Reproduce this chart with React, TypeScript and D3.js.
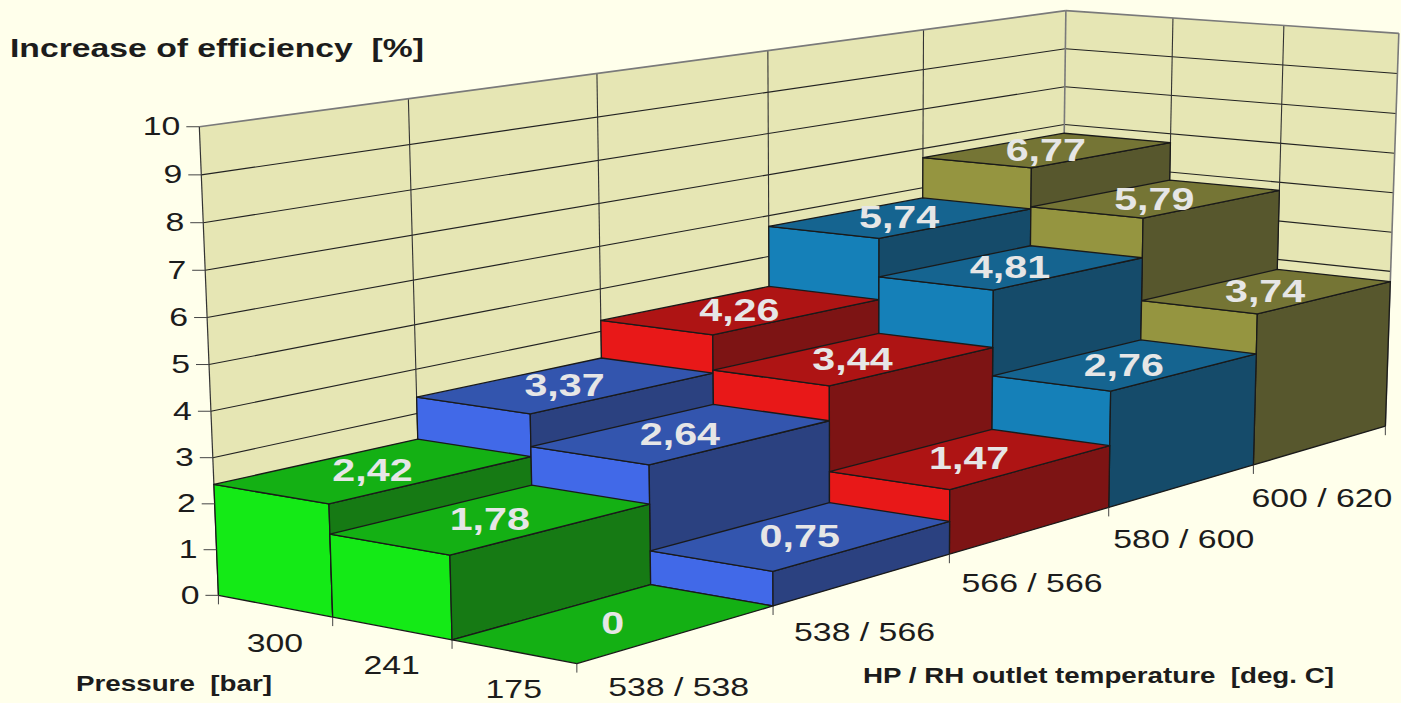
import React from "react";
import * as d3 from "d3";

// Efficiency gain [%] per pressure row, one entry per temperature step
const pressures = ["300", "241", "175"];
const temperatures = ["538 / 538", "538 / 566", "566 / 566", "580 / 600", "600 / 620"];
const gain300 = [2.42, 3.37, 4.26, 5.74, 6.77];
const gain241 = [1.78, 2.64, 3.44, 4.81, 5.79];
const gain175 = [0, 0.75, 1.47, 2.76, 3.74];
const gainRows = [gain300, gain241, gain175];
const valueTicks = d3.range(0, 11);

// Shades per temperature step: lit side, top, shaded side
const sideColors = ["#14EA16", "#4169E8", "#E81818", "#1580B8", "#959540"];
const topColors = ["#14B014", "#3355AE", "#AE1414", "#156490", "#757535"];
const shadeColors = ["#167A14", "#2B4180", "#7D1414", "#154B6A", "#57572D"];

const W = 1401;
const H = 703;

// Room coordinates: depth along the pressure axis, width along the temperature axis, height in %
const depth = d3.scaleLinear().domain([0, pressures.length]).range([pressures.length, 0]);
const width = d3.scaleLinear().domain([0, temperatures.length]).range([0, temperatures.length]);
const height = d3.scaleLinear().domain([0, 10]).range([0, 10]);

// Camera reference points as [depth, width, height, screenX, screenY]
const cameraPoints: number[][] = [
  [3, 0, 0, 219, 596],
  [3, 0, 10, 200, 127],
  [0, 0, 0, 576, 663],
  [1, 0, 0, 452, 640],
  [2, 0, 0, 333, 617],
  [0, 1, 0, 773, 606],
  [0, 2, 0, 950, 555.6],
  [0, 3, 0, 1110, 507],
  [0, 4, 0, 1253, 464],
  [0, 5, 0, 1385, 427],
  [1, 1, 0, 650, 585],
  [3, 5, 10, 1065.7, 10],
  [0, 5, 10, 1399, 34],
  [1, 5, 10, 1285, 26],
  [2, 5, 10, 1172, 18],
  [3, 5, 9, 1065, 49],
  [3, 5, 8, 1065, 87],
  [0, 5, 3.74, 1390, 282],
  [1, 5, 5.79, 1279, 190],
  [2, 5, 6.77, 1171, 142],
  [2, 4, 6.77, 1032, 168],
  [1, 4, 5.79, 1143, 218],
  [0, 4, 3.74, 1257, 313],
  [3, 1, 10, 408, 99],
  [3, 1, 9, 409, 144],
  [3, 0, 2.42, 214, 484],
  [2, 0, 2.42, 329, 504],
  [2, 0, 1.78, 329.5, 535],
  [1, 0, 1.78, 450, 554],
  [1, 1, 0.75, 650, 551],
  [0, 1, 0.75, 773, 571],
];

function solveLinear(A: number[][], b: number[]): number[] {
  const n = b.length;
  const M = A.map((row, i) => [...row, b[i]]);
  for (let c = 0; c < n; c++) {
    let p = c;
    for (let r = c + 1; r < n; r++) if (Math.abs(M[r][c]) > Math.abs(M[p][c])) p = r;
    [M[c], M[p]] = [M[p], M[c]];
    for (let r = 0; r < n; r++) {
      if (r === c) continue;
      const f = M[r][c] / M[c][c];
      for (let k = c; k <= n; k++) M[r][k] -= f * M[c][k];
    }
  }
  return M.map((row, i) => row[n] / row[i]);
}

// Least-squares projective camera through the reference points
function fitCamera(points: number[][]): number[] {
  const rows: number[][] = [];
  const rhs: number[] = [];
  for (const [a, b, c, sx, sy] of points) {
    const x = sx / 1000;
    const y = sy / 1000;
    rows.push([a, b, c, 1, 0, 0, 0, 0, -x * a, -x * b, -x * c]);
    rhs.push(x);
    rows.push([0, 0, 0, 0, a, b, c, 1, -y * a, -y * b, -y * c]);
    rhs.push(y);
  }
  const n = 11;
  const AtA = d3.range(n).map((i) => d3.range(n).map((j) => d3.sum(rows, (r) => r[i] * r[j])));
  const Atb = d3.range(n).map((i) => d3.sum(rows, (r, k) => r[i] * rhs[k]));
  return solveLinear(AtA, Atb);
}

const cam = fitCamera(cameraPoints);

function project(u: number, v: number, z: number): [number, number] {
  const w = cam[8] * u + cam[9] * v + cam[10] * z + 1;
  return [
    (1000 * (cam[0] * u + cam[1] * v + cam[2] * z + cam[3])) / w,
    (1000 * (cam[4] * u + cam[5] * v + cam[6] * z + cam[7])) / w,
  ];
}

const polyPath = d3.line<[number, number]>().curve(d3.curveLinearClosed);
const segPath = d3.line<[number, number]>();

const quad = (pts: number[][]) => polyPath(pts.map(([u, v, z]) => project(u, v, z))) as string;
const seg = (a: number[], b: number[]) =>
  segPath([project(a[0], a[1], a[2]), project(b[0], b[1], b[2])]) as string;

const TEXT_COLOR = "#1c1c1c";
const FONT = "'Liberation Sans', Arial, sans-serif";
const LABEL_SIZE = 26;
const LABEL_STRETCH = 1.3;
const VALUE_SIZE = 31;
const VALUE_STRETCH = 1.33;

function Stretched(props: { x: number; y: number; size: number; sx: number; anchor: string; bold?: boolean; fill?: string; children: string }) {
  const { x, y, size, sx, anchor, bold, fill, children } = props;
  return (
    <text
      transform={`translate(${x},${y}) scale(${sx},1)`}
      fontSize={size}
      fontFamily={FONT}
      fontWeight={bold ? "bold" : "normal"}
      textAnchor={anchor}
      fill={fill ?? TEXT_COLOR}
    >
      {children}
    </text>
  );
}

function AxisTitle(props: { x: number; y: number; size: number; len: number; children: string }) {
  return (
    <text
      x={props.x}
      y={props.y}
      fontSize={props.size}
      fontFamily={FONT}
      fontWeight="bold"
      fill={TEXT_COLOR}
      textLength={props.len}
      lengthAdjust="spacingAndGlyphs"
      style={{ whiteSpace: "pre" }}
    >
      {props.children}
    </text>
  );
}

function Walls() {
  const uMax = depth(0);
  const vMax = width(temperatures.length);
  const top = height(10);
  return (
    <g>
      <path d={quad([[uMax, 0, 0], [uMax, vMax, 0], [uMax, vMax, top], [uMax, 0, top]])} fill="#E6E6B4" />
      <path d={quad([[uMax, vMax, 0], [0, vMax, 0], [0, vMax, top], [uMax, vMax, top]])} fill="#E6E6B4" />
      {valueTicks.slice(0, -1).map((t) => (
        <g key={t} stroke="#222" strokeWidth={1.1} fill="none">
          <path d={seg([uMax, 0, height(t)], [uMax, vMax, height(t)])} />
          <path d={seg([uMax, vMax, height(t)], [0, vMax, height(t)])} />
        </g>
      ))}
      {temperatures.slice(1).map((_, i) => (
        <path key={i} d={seg([uMax, width(i + 1), 0], [uMax, width(i + 1), top])} stroke="#333" strokeWidth={1.1} />
      ))}
      {pressures.slice(1).map((_, i) => (
        <path key={i} d={seg([depth(i + 1), vMax, 0], [depth(i + 1), vMax, top])} stroke="#333" strokeWidth={1.1} />
      ))}
      <g stroke="#7a7a7a" strokeWidth={1.6} fill="none">
        <path d={seg([uMax, 0, top], [uMax, vMax, top])} />
        <path d={seg([uMax, vMax, top], [0, vMax, top])} />
        <path d={seg([uMax, vMax, 0], [uMax, vMax, top])} />
        <path d={seg([0, vMax, 0], [0, vMax, top])} />
      </g>
      <path d={seg([uMax, 0, 0], [uMax, 0, top])} stroke="#333" strokeWidth={1.2} />
    </g>
  );
}

function Bars() {
  // Painted from the far corner towards the viewer so nearer steps overlap farther ones
  const cells = pressures.flatMap((_, r) =>
    [...temperatures.keys()].reverse().map((c) => ({ r, c, value: gainRows[r][c] }))
  );
  return (
    <g stroke="#1a1a1a" strokeWidth={1.3} strokeLinejoin="round">
      {cells.map(({ r, c, value }) => {
        const u1 = depth(r);
        const u0 = depth(r + 1);
        const v0 = width(c);
        const v1 = width(c + 1);
        const z = height(value);
        return (
          <g key={`${r}-${c}`}>
            {value > 0 && (
              <>
                <path d={quad([[u1, v0, 0], [u0, v0, 0], [u0, v0, z], [u1, v0, z]])} fill={sideColors[c]} />
                <path d={quad([[u0, v0, 0], [u0, v1, 0], [u0, v1, z], [u0, v0, z]])} fill={shadeColors[c]} />
              </>
            )}
            <path d={quad([[u1, v0, z], [u0, v0, z], [u0, v1, z], [u1, v1, z]])} fill={topColors[c]} />
          </g>
        );
      })}
    </g>
  );
}

function ValueLabels() {
  return (
    <g>
      {gainRows.flatMap((row, r) =>
        row.map((value, c) => {
          const [x, y] = project(depth(r + 0.5), width(c + 0.5), height(value));
          return (
            <Stretched key={`${r}-${c}`} x={x - 2.5} y={y + 11} size={VALUE_SIZE} sx={VALUE_STRETCH} anchor="middle" bold fill="#E6E6E6">
              {String(value).replace(".", ",")}
            </Stretched>
          );
        })
      )}
    </g>
  );
}

function Axes() {
  const uMax = depth(0);
  return (
    <g>
      {valueTicks.map((t) => {
        const [x, y] = project(uMax, 0, height(t));
        return (
          <g key={t}>
            <line x1={x - 13} x2={x} y1={y} y2={y} stroke="#444" strokeWidth={1} />
            <Stretched x={x - 19} y={y + 8.5} size={LABEL_SIZE} sx={LABEL_STRETCH} anchor="end">
              {String(t)}
            </Stretched>
          </g>
        );
      })}
      {d3.range(pressures.length + 1).map((i) => {
        const [x, y] = project(depth(i), 0, 0);
        return <line key={i} x1={x} x2={x} y1={y} y2={y + 9} stroke="#444" strokeWidth={1} />;
      })}
      {d3.range(1, temperatures.length + 1).map((i) => {
        const [x, y] = project(0, width(i), 0);
        return <line key={i} x1={x} x2={x} y1={y} y2={y + 9} stroke="#444" strokeWidth={1} />;
      })}
      {pressures.map((p, i) => {
        const [x, y] = project(depth(i + 0.5), 0, 0);
        return (
          <Stretched key={p} x={x} y={y + 46} size={LABEL_SIZE} sx={LABEL_STRETCH} anchor="middle">
            {p}
          </Stretched>
        );
      })}
      {temperatures.map((t, i) => {
        const [x, y] = project(0, width(i + 0.5), 0);
        return (
          <Stretched key={t} x={x + 1} y={y + 62} size={LABEL_SIZE} sx={LABEL_STRETCH} anchor="middle">
            {t}
          </Stretched>
        );
      })}
    </g>
  );
}

export default function App() {
  return (
    <svg
      width={W}
      height={H}
      viewBox={`0 0 ${W} ${H}`}
      style={{ position: "absolute", left: 0, top: 0, display: "block", background: "#FFFFEB" }}
    >
      <Walls />
      <Bars />
      <ValueLabels />
      <Axes />
      <AxisTitle x={10} y={57} size={26.5} len={414}>{"Increase of efficiency  [%]"}</AxisTitle>
      <AxisTitle x={76} y={691} size={22.5} len={196}>{"Pressure  [bar]"}</AxisTitle>
      <AxisTitle x={863} y={683} size={22.5} len={471}>{"HP / RH outlet temperature  [deg. C]"}</AxisTitle>
    </svg>
  );
}
